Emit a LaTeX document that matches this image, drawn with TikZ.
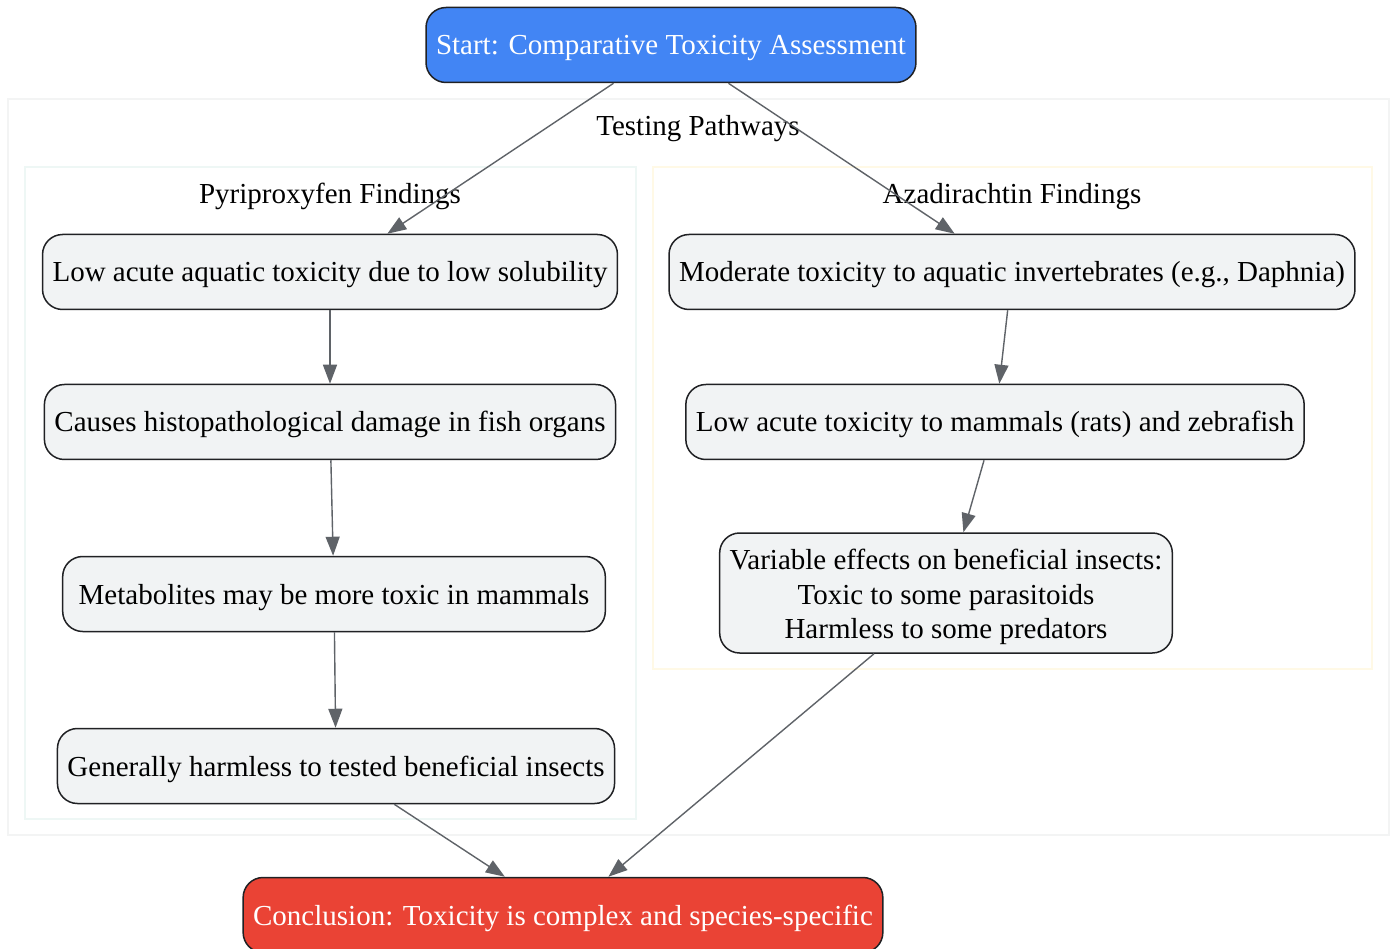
\documentclass[tikz,border=0pt]{standalone}
\usepackage{fontspec}
\setmainfont{Liberation Serif}
\usepackage{tikz}
\usetikzlibrary{positioning,arrows.meta,shapes}
\definecolor{startblue}{HTML}{4285F4}
\definecolor{endred}{HTML}{EA4335}
\definecolor{boxgrey}{HTML}{F1F3F4}
\definecolor{boxline}{HTML}{202124}
\definecolor{edgegrey}{HTML}{5F6368}
\definecolor{outerline}{HTML}{F3F4F4}
\definecolor{pyrline}{HTML}{EEF7F5}
\definecolor{azaline}{HTML}{FFF9E6}
\tikzset{
	>={Triangle[length=19pt,width=14pt]},
	findbox/.style={
		rectangle,
		rounded corners=20pt,
		fill=boxgrey,
		draw=boxline, line width=1.5pt,
		minimum height=75pt,
		inner xsep=10pt,
		text height=22pt, text depth=2pt,
		align=center,
		font=\fontsize{29}{34.5}\selectfont},
	startbox/.style={findbox, fill=startblue, text=white},
	endbox/.style={findbox, fill=endred, text=white},
	line/.style={draw=edgegrey, line width=1.4pt, ->},
	cluster/.style={line width=1.5pt, fill=white},
	clulabel/.style={text height=22pt, text depth=2pt,
		font=\fontsize{29}{34}\selectfont},
}

\begin{document}
\begin{tikzpicture}[x=1pt,y=-1pt]
\useasboundingbox (0,0) rectangle (1393,949);
% groups
\draw[cluster, draw=outerline] (8,99) rectangle (1389,835);
\node[clulabel] (testlab) at (698,126) {Testing Pathways};
\draw[cluster, draw=pyrline] (25,167) rectangle (636,819);
\node[clulabel] (pyrlab) at (330,194) {Pyriproxyfen Findings};
\draw[cluster, draw=azaline] (653,167) rectangle (1372,669);
\node[clulabel] (azalab) at (1012,194) {Azadirachtin Findings};

\node[startbox] (start) at (671,45) {Start: Comparative Toxicity Assessment};

\node[findbox] (pyr1) at (330,272) {Low acute aquatic toxicity due to low solubility};
\node[findbox] (pyr2) at (330,422) {Causes histopathological damage in fish organs};
\node[findbox, inner xsep=16pt] (pyr3) at (334,594) {Metabolites may be more toxic in mammals};
\node[findbox] (pyr4) at (336,766) {Generally harmless to tested beneficial insects};

\node[findbox] (aza1) at (1012,272) {Moderate toxicity to aquatic invertebrates (e.g., Daphnia)};
\node[findbox] (aza2) at (995,422) {Low acute toxicity to mammals (rats) and zebrafish};
\node[findbox, minimum height=120pt, text height=91pt, text depth=0pt] (aza3) at (946,593) {Variable effects on beneficial insects:\\Toxic to some parasitoids\\Harmless to some predators};

\node[endbox] (concl) at (563,915) {Conclusion: Toxicity is complex and species-specific};

\draw[line] (start) -- (pyr1);
\draw[line] (start) -- (aza1);
\draw[line] (pyr1) -- (pyr2);
\draw[line] (pyr2) -- (pyr3);
\draw[line] (pyr3) -- (pyr4);
\draw[line] (aza1) -- (aza2);
\draw[line] (aza2) -- (aza3);
\draw[line] (pyr4) -- (concl);
\draw[line] (aza3) -- (concl);
\end{tikzpicture}
\end{document}
